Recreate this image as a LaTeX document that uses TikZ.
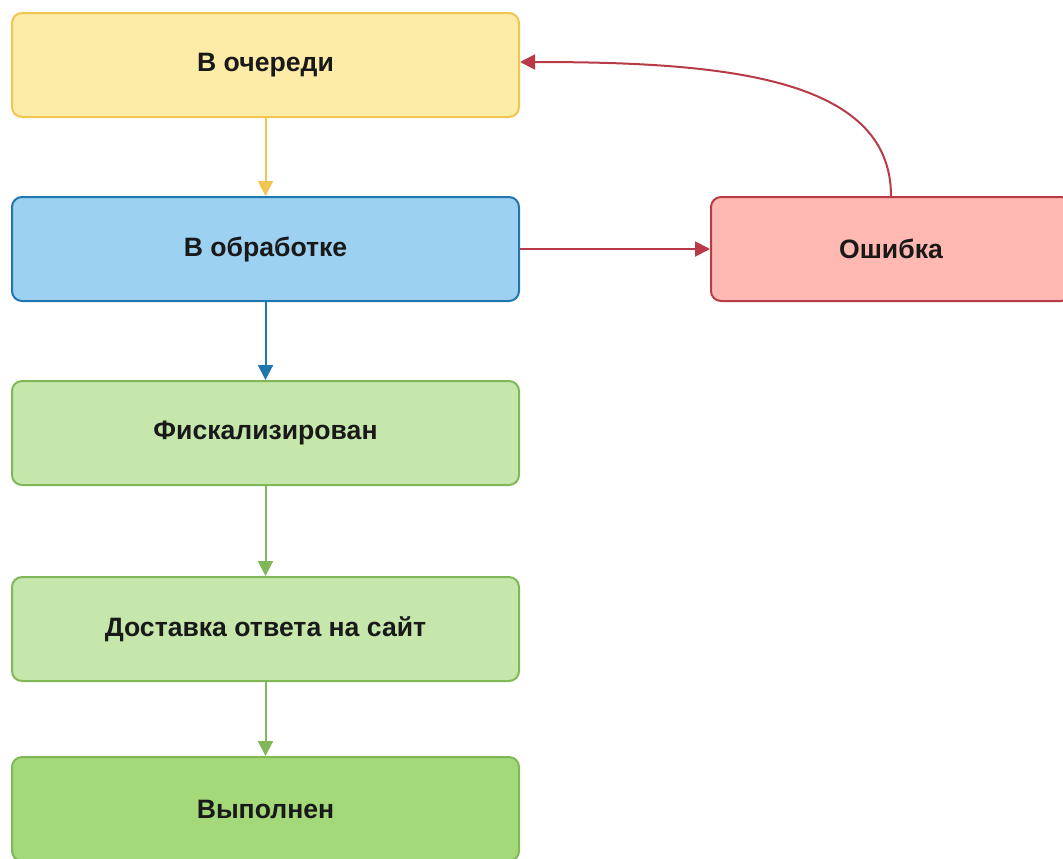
\documentclass[tikz,border=0pt]{standalone}
\usepackage{fontspec}
\setmainfont{Liberation Sans}
\usetikzlibrary{positioning, arrows.meta}

\definecolor{queuefill}{HTML}{FDEBA8}
\definecolor{queueline}{HTML}{F0C550}
\definecolor{workfill}{HTML}{9DD1F2}
\definecolor{workline}{HTML}{1E77AE}
\definecolor{donefill}{HTML}{C6E7AC}
\definecolor{doneline}{HTML}{80B757}
\definecolor{finalfill}{HTML}{A4D97A}
\definecolor{errfill}{HTML}{FFB8B2}
\definecolor{errline}{HTML}{B83A46}

\tikzset{
    >={Triangle[length=7.5pt, width=7.5pt]}, % filled triangle heads
    status/.style={draw, rounded corners=5pt, line width=1pt,
        minimum width=253.5pt, minimum height=52pt,
        font=\bfseries\fontsize{13.3}{16}\selectfont, text=black!90}, % every box
    queued/.style={status, fill=queuefill, draw=queueline},
    working/.style={status, fill=workfill, draw=workline},
    done/.style={status, fill=donefill, draw=doneline},
    finished/.style={status, fill=finalfill, draw=doneline},
    failed/.style={status, fill=errfill, draw=errline},
    link/.style={line width=1pt, ->},
}

\begin{document}
\begin{tikzpicture}[on grid]
                \useasboundingbox (0,0) rectangle (531.5pt,-429pt);

                % Stati
                \node[queued] (queue) at (132.75pt,-32.5pt) {В очереди};
                \node[working] (work) [below=92pt of queue] {В обработке};
                \node[done] (fiscal) [below=92pt of work] {Фискализирован};
                \node[done] (deliver) [below=98pt of fiscal] {Доставка ответа на сайт};
                \node[finished] (ready) [below=90pt of deliver] {Выполнен};
                \node[failed, minimum width=180pt] (err) [right=312.75pt of work] {Ошибка};

                % Transizioni
                \path
                (queue) edge[link, queueline] (work)
                (work) edge[link, workline] (fiscal)
                       edge[link, errline] (err)
                (fiscal) edge[link, doneline] (deliver)
                (deliver) edge[link, doneline] (ready);
                \draw[link, errline] (err.north) .. controls +(0,60pt) and +(100pt,0) .. ([yshift=1.5pt]queue.east);

            \end{tikzpicture}
\end{document}
